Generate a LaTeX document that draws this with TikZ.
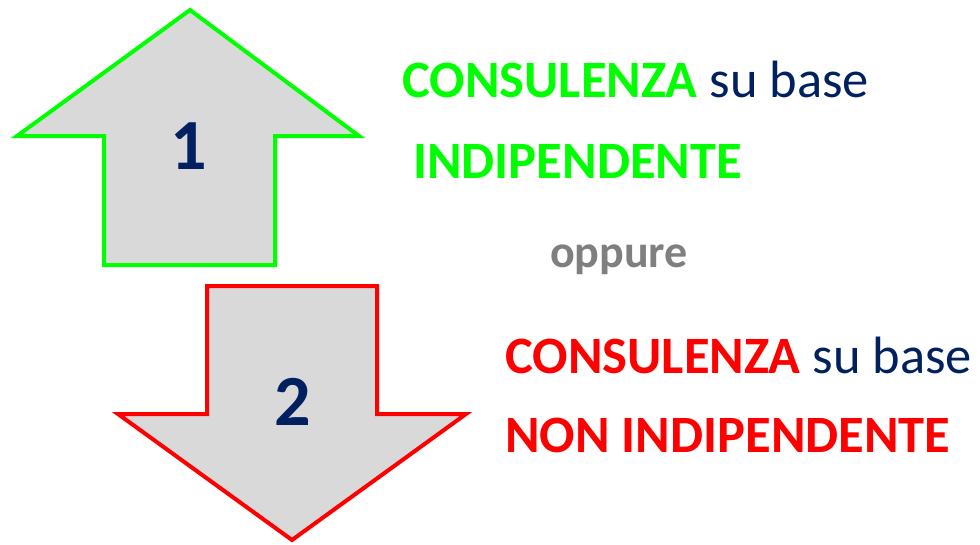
\documentclass[tikz,border=0pt]{standalone}
\usepackage{fontspec}
\setmainfont{Carlito}
\definecolor{verde}{RGB}{0,255,0}
\definecolor{rosso}{RGB}{255,0,0}
\definecolor{blu}{RGB}{0,32,96}
\definecolor{grigio}{RGB}{217,217,217}
\definecolor{testogrigio}{RGB}{127,127,127}
\tikzset{freccia/.style={fill=grigio,line width=4pt,line join=miter},
	numero/.style={text=blu,font=\fontsize{72}{80}\selectfont\bfseries},
	scritta/.style={anchor=base west,inner sep=0pt,font=\fontsize{52.5}{60}\selectfont}}
\begin{document}
\begin{tikzpicture}[x=1pt,y=-1pt]
			\useasboundingbox (0,0) rectangle (980,544);
			\draw[freccia,draw=verde] (190,10)--(359,136)--(275,136)--(275,265)--(104,265)--(104,136)--(17,136)--cycle;
			\draw[freccia,draw=rosso] (207,286)--(377,286)--(377,414)--(466,414)--(292,540)--(118,414)--(207,414)--cycle;
			\node[numero] (uno) at (189,146) {1};
			\node[numero] (due) at (293,402) {2};
			\node[scritta] (cons1) at (402,97) {\textbf{\color{verde}CONSULENZA} \color{blu}su base};
			\node[scritta,text=verde] (indip) at (413,178) {\bfseries INDIPENDENTE};
			\node[anchor=base,inner sep=0pt,text=testogrigio,font=\fontsize{46}{50}\selectfont\bfseries] (oppure) at (619,267) {oppure};
			\node[scritta] (cons2) at (505,373) {\textbf{\color{rosso}CONSULENZA} \color{blu}su base};
			\node[scritta,text=rosso] (nonindip) at (505,452) {\bfseries NON INDIPENDENTE};
\end{tikzpicture}
\end{document}
